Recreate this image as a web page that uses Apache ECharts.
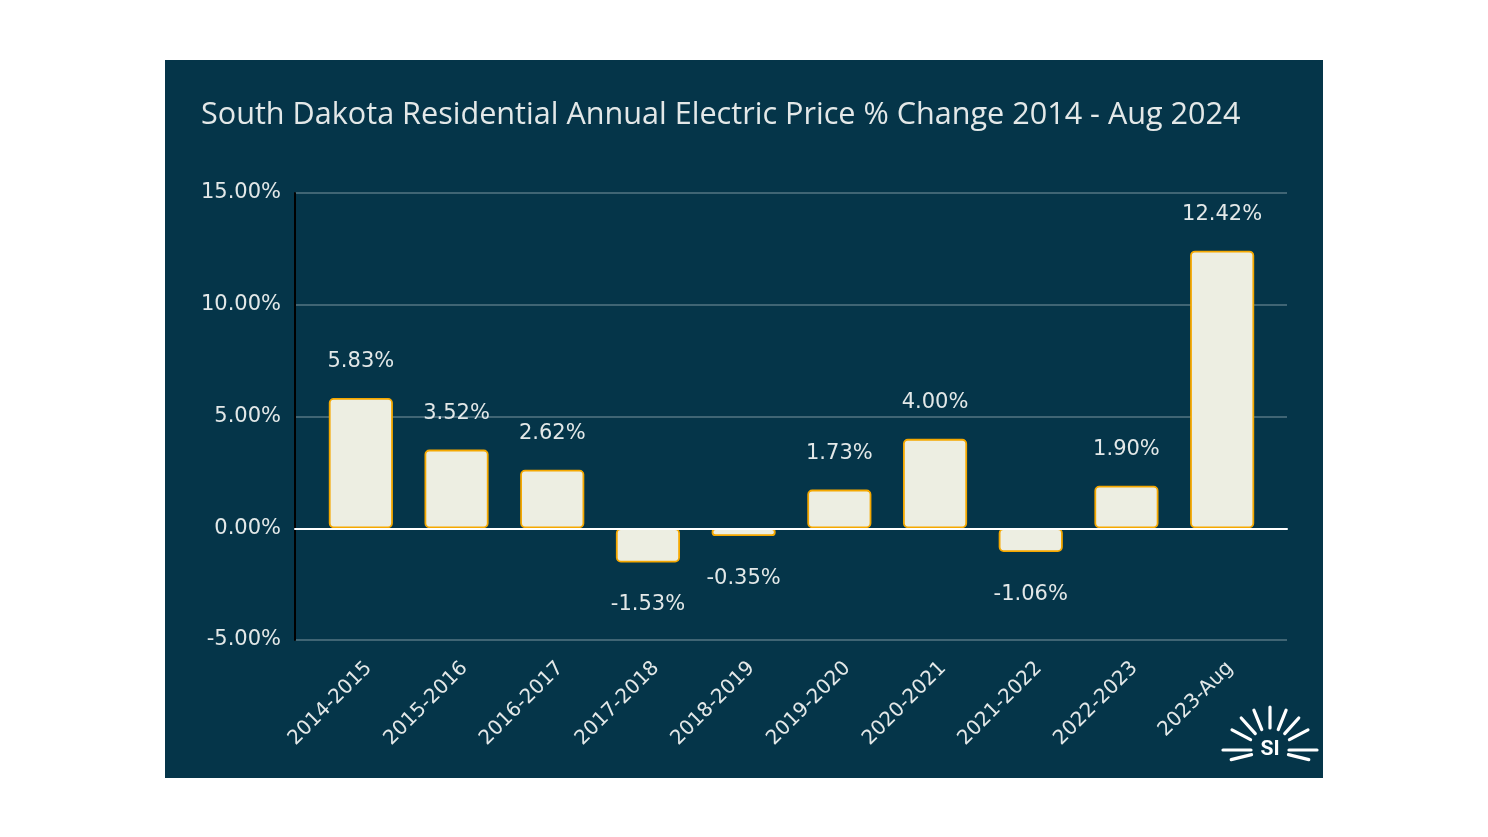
<!DOCTYPE html>
<html>
<head>
<meta charset="utf-8">
<script src="https://cdn.jsdelivr.net/npm/echarts@6/dist/echarts.min.js"></script>
<style>
html,body{margin:0;padding:0;background:#ffffff;}
#chart{width:1488px;height:837px;}
</style>
</head>
<body>
<div id="chart"></div>
<script>
const titleText = 'South Dakota Residential Annual Electric Price % Change 2014 - Aug 2024';
const categories = ['2014-2015','2015-2016','2016-2017','2017-2018','2018-2019','2019-2020','2020-2021','2021-2022','2022-2023','2023-Aug'];
const changes = [5.83, 3.52, 2.62, -1.53, -0.35, 1.73, 4.00, -1.06, 1.90, 12.42];
const yTicks = {min: -5, max: 15, interval: 5};

const panel = '#053549';
const textColor = '#e3e8e8';
const titleFont = '"Open Sans", Roboto, sans-serif';
const font = '"DejaVu Sans", Roboto, sans-serif';

const chart = echarts.init(document.getElementById('chart'), null, {renderer: 'canvas'});

// logo rays
const cx = 1270, cy = 750;
const rayAngles = [90, 68, 48, 28, 0, -14, 112, 132, 152, 180, 194];
const rays = rayAngles.map(a => {
  const r = a * Math.PI / 180;
  const inner = (a === 0 || a === 180 || a === -14 || a === 194) ? 19 : 22;
  const outer = (a === 0 || a === 180) ? 47 : (a === -14 || a === 194 ? 40 : 43);
  return {
    type: 'line', z: 10,
    shape: {x1: cx + inner * Math.cos(r), y1: cy - inner * Math.sin(r), x2: cx + outer * Math.cos(r), y2: cy - outer * Math.sin(r)},
    style: {stroke: '#ffffff', lineWidth: 3.2, lineCap: 'round'}
  };
});

const barData = changes.map(v => ({
  value: v,
  label: {distance: v < 0 ? 32 : 26}
}));

chart.setOption({
  backgroundColor: '#ffffff',
  animation: false,
  title: {
    text: titleText,
    left: 196, top: 95,
    textStyle: {color: textColor, fontSize: 30.6, fontWeight: 'normal', fontFamily: titleFont}
  },
  graphic: [
    {type: 'rect', z: -10, shape: {x: 165, y: 60, width: 1158, height: 718}, style: {fill: panel}, silent: true},
    ...rays,
    {type: 'text', z: 10, x: cx, y: cy, style: {text: 'SI', fill: '#ffffff', font: 'bold 21px Roboto, sans-serif', textAlign: 'center', textVerticalAlign: 'middle'}}
  ],
  grid: [
    {left: 295, right: 201, top: 193, bottom: 197, containLabel: false},
    {left: 313, right: 218, top: 193, bottom: 197, containLabel: false},
    {left: 321, right: 210, top: 193, bottom: 197, containLabel: false}
  ],
  xAxis: [
    {gridIndex: 0, type: 'value', min: 0, max: 1, axisLabel: {show: false}, axisTick: {show: false}, splitLine: {show: false},
     axisLine: {show: true, onZero: true, lineStyle: {color: '#ffffff', width: 2}}, z: 5},
    {gridIndex: 1, type: 'category', data: categories,
     axisLine: {show: false}, axisTick: {show: false}, axisLabel: {show: false}},
    {gridIndex: 2, type: 'category', data: categories,
     axisLine: {show: false}, axisTick: {show: false},
     axisLabel: {rotate: 45, color: textColor, fontSize: 20, fontFamily: font, margin: 25, interval: 0}}
  ],
  yAxis: [
    {gridIndex: 0, type: 'value', min: yTicks.min, max: yTicks.max, interval: yTicks.interval,
     axisLine: {show: true, lineStyle: {color: '#000000', width: 2}},
     axisTick: {show: false},
     axisLabel: {color: textColor, fontSize: 21, fontFamily: font, margin: 14, formatter: v => v.toFixed(2) + '%'},
     splitLine: {lineStyle: {color: 'rgba(255,255,255,0.32)', width: 1.5}}},
    {gridIndex: 1, type: 'value', min: yTicks.min, max: yTicks.max, interval: yTicks.interval, show: false, splitLine: {show: false}},
    {gridIndex: 2, type: 'value', min: yTicks.min, max: yTicks.max, interval: yTicks.interval, show: false, splitLine: {show: false}}
  ],
  series: [{
    type: 'bar',
    xAxisIndex: 1, yAxisIndex: 1,
    data: barData,
    barWidth: '67%',
    z: 3,
    itemStyle: {color: '#edeee2', borderColor: '#f5a800', borderWidth: 1.8, borderRadius: 4},
    label: {show: true, position: 'outside', distance: 27, color: textColor, fontSize: 21, fontFamily: font,
            formatter: p => p.value.toFixed(2) + '%'}
  }]
});
</script>
</body>
</html>
